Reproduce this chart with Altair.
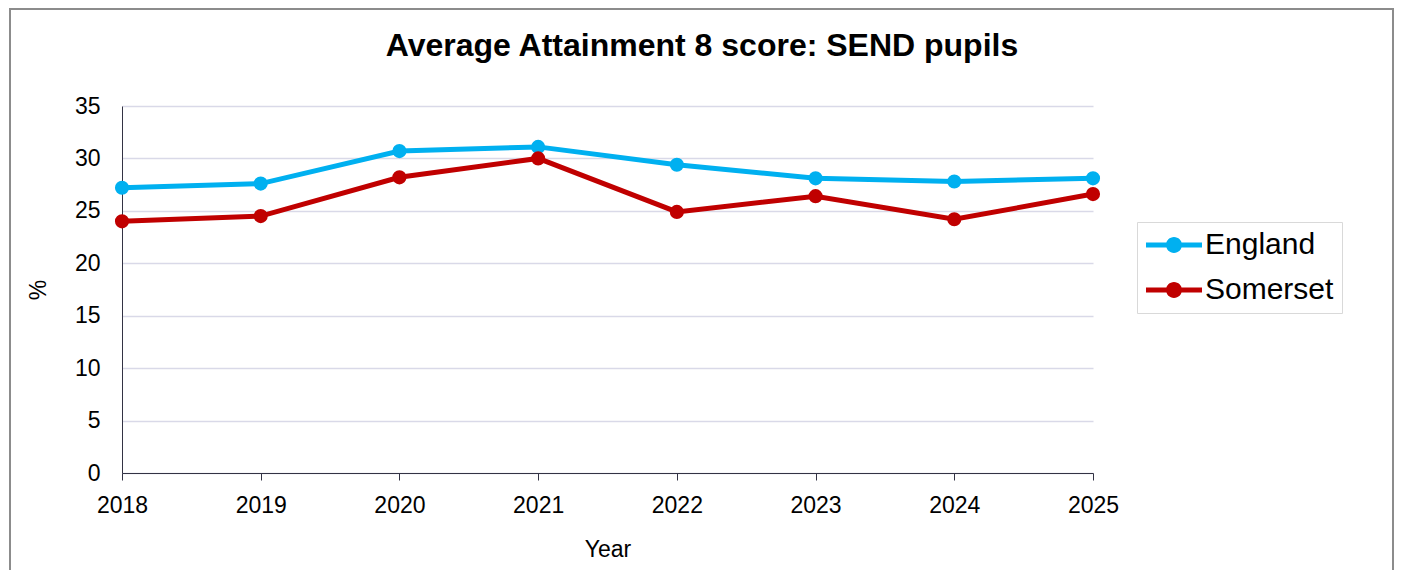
import altair as alt
import pandas as pd

years = [2018, 2019, 2020, 2021, 2022, 2023, 2024, 2025]
england = [27.2, 27.6, 30.7, 31.1, 29.4, 28.1, 27.8, 28.1]
somerset = [24.0, 24.5, 28.2, 30.0, 24.9, 26.4, 24.2, 26.6]
series_names = ["England", "Somerset"]
series_colors = ["#00B0F0", "#C00000"]
y_ticks = [0, 5, 10, 15, 20, 25, 30, 35]
chart_title = "Average Attainment 8 score: SEND pupils"

rows = []
for yr, e, s in zip(years, england, somerset):
    rows.append({"Year": yr, "Area": "England", "Value": e})
    rows.append({"Year": yr, "Area": "Somerset", "Value": s})
df = pd.DataFrame(rows)

FONT = "Liberation Sans"
# legend glyph: line with a dot, in units of 14px (box spans -1..1)
legend_path = ("M-1,-0.18 L3,-0.18 L3,0.18 L-1,0.18 Z "
               "M0.43,0 A0.57,0.57 0 1,1 1.57,0 A0.57,0.57 0 1,1 0.43,0 Z")

x_enc = alt.X("Year:Q",
              scale=alt.Scale(domain=[2018, 2025], nice=False, zero=False),
              axis=alt.Axis(values=years, format="d", title="Year", grid=False,
                            labelFontSize=23, titleFontSize=23, titleFontWeight="normal",
                            tickSize=7, labelPadding=14, titlePadding=21,
                            domainColor="#333344", tickColor="#333344",
                            labelColor="#000000", titleColor="#000000",
                            labelFlush=False))
y_enc = alt.Y("Value:Q",
              scale=alt.Scale(domain=[0, 35], nice=False),
              axis=alt.Axis(values=y_ticks, title="%", grid=True, gridColor="#D9D9E8",
                            gridWidth=1.5, ticks=False, labelPadding=22,
                            labelFontSize=23, titleFontSize=23, titleFontWeight="normal",
                            titlePadding=24, domainColor="#333344",
                            labelColor="#000000", titleColor="#000000"))
color_enc = alt.Color("Area:N",
                      scale=alt.Scale(domain=series_names, range=series_colors),
                      legend=alt.Legend(title=None, orient="none", legendX=1015, legendY=116,
                                        symbolType=legend_path, symbolSize=784,
                                        symbolStrokeWidth=0, labelFontSize=30,
                                        labelOffset=30, rowPadding=15, padding=8,
                                        strokeColor="#D9D9D9", labelColor="#000000"))

base = alt.Chart(df)
lines = base.mark_line(strokeWidth=5).encode(x=x_enc, y=y_enc, color=color_enc)
points = base.mark_circle(size=200, opacity=1).encode(x=x_enc, y=y_enc, color=color_enc)

title_df = pd.DataFrame({"t": [chart_title]})
title_mark = alt.Chart(title_df).mark_text(
    fontSize=32, fontWeight="bold", font=FONT, color="#000000",
    align="center", baseline="middle"
).encode(text="t:N", x=alt.value(580), y=alt.value(-60))

frame_color = "#8C8C8C"
frame_left = alt.Chart(title_df).mark_rule(color=frame_color, strokeWidth=2).encode(
    x=alt.value(-112), y=alt.value(-97), y2=alt.value(470))
frame_right = alt.Chart(title_df).mark_rule(color=frame_color, strokeWidth=2).encode(
    x=alt.value(1271), y=alt.value(-97), y2=alt.value(470))
frame_top = alt.Chart(title_df).mark_rule(color=frame_color, strokeWidth=2).encode(
    x=alt.value(-113), x2=alt.value(1272), y=alt.value(-97))

chart = alt.layer(frame_left, frame_right, frame_top, lines, points, title_mark).properties(
    width=971, height=367,
    autosize=alt.AutoSizeParams(type="none"),
    padding={"left": 114, "top": 98, "right": 302, "bottom": 97},
).configure(font=FONT).configure_view(stroke=None)

chart.save("out.html", embed_options={"renderer": "svg", "actions": False})
